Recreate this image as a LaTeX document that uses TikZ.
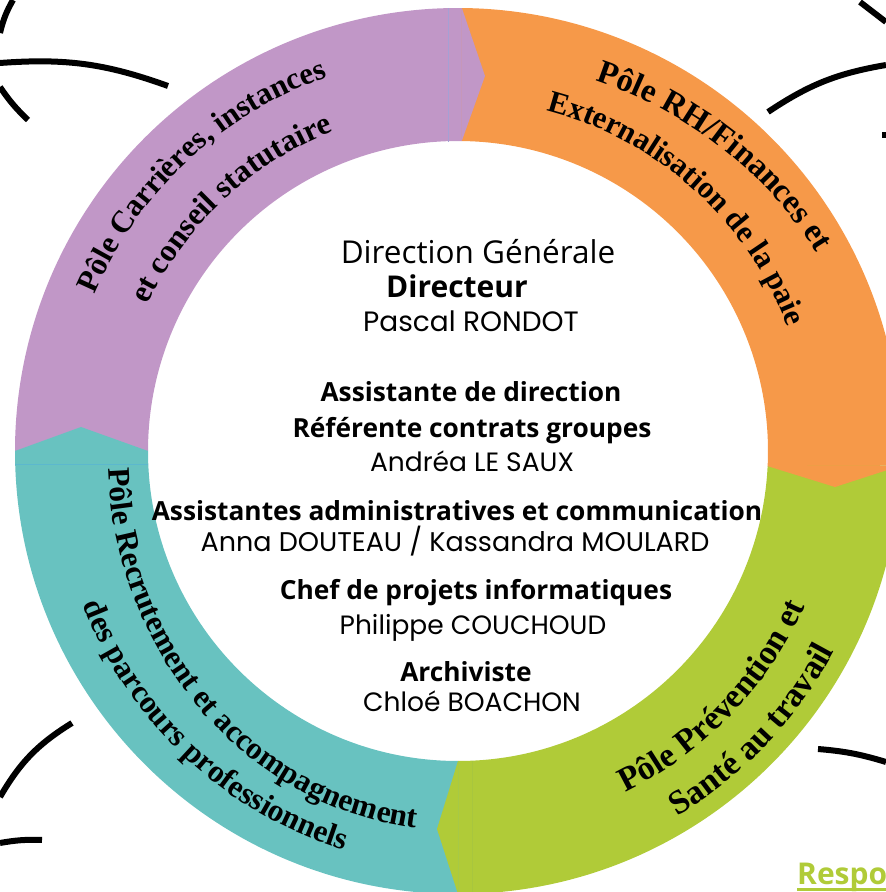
\documentclass[tikz,border=0pt]{standalone}
\usepackage{fontspec}
\setmainfont{Liberation Serif}
\newfontfamily\osans{Open Sans}
\newfontfamily\popp{Poppins}
\newfontfamily\arcfont{Liberation Serif}
\usetikzlibrary{decorations.text}
\definecolor{cPurple}{RGB}{193,151,199}
\definecolor{cOrange}{RGB}{246,153,73}
\definecolor{cGreen}{RGB}{176,203,56}
\definecolor{cTeal}{RGB}{104,194,192}
\definecolor{cPurpleLine}{RGB}{165,160,212}
\definecolor{cTealLine}{RGB}{92,184,206}
\definecolor{cGreenLine}{RGB}{168,198,62}
\begin{document}
\begin{tikzpicture}[x=1pt,y=1pt,
  stroke/.style={line width=6pt, black, line cap=butt},
  ctr/.style={anchor=base, inner sep=0pt, text=black},
  heading/.style={ctr, font=\osans\bfseries\fontsize{26.3}{26.3}\selectfont},
  person/.style={ctr, font=\popp\fontsize{26.5}{26.5}\selectfont},
  arcT/.style 2 args={decorate, decoration={text along path, text align=center,
     text={|\arcfont\bfseries\fontsize{#1}{#1}\selectfont|#2}}},
]
\useasboundingbox (0,0) rectangle (886,892);
\clip (0,0) rectangle (886,892);
\coordinate (C) at (458,441);

% ---- ring sectors ----
\fill[cPurple] ([shift={(C)}]180:443) arc[start angle=180, end angle=89.5, radius=443]
   -- ([shift={(C)}]89.3:310) arc[start angle=89.3, end angle=180, radius=310] -- cycle;
\fill[cOrange] ([shift={(C)}]89.5:443) arc[start angle=89.5, end angle=-1.9, radius=443]
   -- ([shift={(C)}]-2.8:310) arc[start angle=-2.8, end angle=89.3, radius=310] -- cycle;
\fill[cGreen] ([shift={(C)}]-1.9:443) arc[start angle=-1.9, end angle=-90, radius=443]
   -- ([shift={(C)}]-90:310) arc[start angle=-90, end angle=-2.8, radius=310] -- cycle;
\fill[cTeal] ([shift={(C)}]270:443) arc[start angle=270, end angle=180, radius=443]
   -- ([shift={(C)}]180:310) arc[start angle=180, end angle=270, radius=310] -- cycle;

% ---- arrow tips ----
\fill[cPurple] ([shift={(C)}]89.5:443) -- (485,816) -- ([shift={(C)}]89.3:310) -- cycle;
\fill[cOrange] ([shift={(C)}]-1.9:443) -- (835,405) -- ([shift={(C)}]-2.8:310) -- cycle;
\fill[cGreen] ([shift={(C)}]-90:443) -- (437,63) -- ([shift={(C)}]-90:310) -- cycle;
\fill[cTeal] ([shift={(C)}]180:443) -- (81,465) -- ([shift={(C)}]180:310) -- cycle;

% thin seams
\draw[cPurpleLine, line width=0.8pt] (448,884) -- (448,750);
\draw[cTealLine, line width=0.8pt] (15,428) -- (148,428);
\draw[cGreenLine, line width=0.8pt] (472,0) -- (472,131);

% ---- curved labels ----
\path[arcT={31}{Pôle Carrières, instances}] ([shift={(C)}]175:396) arc[start angle=175, end angle=91, radius=396];
\path[arcT={31.5}{et conseil statutaire}] ([shift={(C)}]178:343) arc[start angle=178, end angle=88, radius=343];
\path[arcT={33}{Pôle RH/Finances et}] ([shift={(C)}]93:392) arc[start angle=93, end angle=7, x radius=414, y radius=392];
\path[arcT={31}{Externalisation de la paie}] ([shift={(C)}]100:352) arc[start angle=100, end angle=-4, radius=352];
\path[arcT={34}{Pôle Prévention et}] ([shift={(C)}]-88:380) arc[start angle=-88, end angle=0, radius=380];
\path[arcT={34}{Santé au travail}] ([shift={(C)}]-86:426) arc[start angle=-86, end angle=-1, radius=426];
\path[arcT={31.5}{Pôle Recrutement et accompagnement}] ([shift={(C)}]171:350) arc[start angle=171, end angle=275, x radius=350, y radius=376];
\path[arcT={31.5}{des parcours professionnels}] ([shift={(C)}]182:404) arc[start angle=182, end angle=274, x radius=404, y radius=416];

% ---- centre text ----
\node[ctr, font=\osans\fontsize{31.5}{31.5}\selectfont] (dg) at (478,628) {Direction Générale};
\node[ctr, font=\osans\bfseries\fontsize{30}{30}\selectfont] (dir) at (457,594) {Directeur};
\node[person, font=\popp\fontsize{28}{28}\selectfont] (pr) at (471,560) {Pascal RONDOT};
\node[heading] (a1) at (471,490) {Assistante de direction};
\node[heading] (a2) at (472,454) {Référente contrats groupes};
\node[person] (a3) at (472,420) {Andréa LE SAUX};
\node[heading] (b1) at (457,371) {Assistantes administratives et communication};
\node[person, font=\popp\fontsize{27}{27}\selectfont] (b2) at (455,340) {Anna DOUTEAU / Kassandra MOULARD};
\node[heading] (c1) at (476,292) {Chef de projets informatiques};
\node[person] (c2) at (473,257) {Philippe COUCHOUD};
\node[heading] (d1) at (466,210) {Archiviste};
\node[person] (d2) at (472,180) {Chloé BOACHON};

% ---- partial footer text ----
\node[anchor=base west, inner sep=0pt, text=cGreen, font=\osans\bfseries\fontsize{30}{30}\selectfont] (resp) at (797,7) {Respo};
\draw[cGreen, line width=3pt] (797,2.5) -- (886,2.5);

% ---- decorative strokes ----
\draw[stroke] (13,892) to[bend right=8] (0,859);
\draw[stroke] (0,829) to[bend left=12] (168,806);
\draw[stroke] (0,805) to[bend right=6] (28,772);
\draw[stroke] (860,890) -- (886,870);
\draw[stroke] (768,780) to[bend left=12] (886,827);
\draw[stroke] (882,757) -- (886,757);
\draw[stroke] (818,143) to[bend left=6] (886,130);
\draw[stroke] (72,169) to[bend right=14] (0,95);
\draw[stroke] (0,49) to[bend left=6] (42,52);
\end{tikzpicture}
\end{document}
